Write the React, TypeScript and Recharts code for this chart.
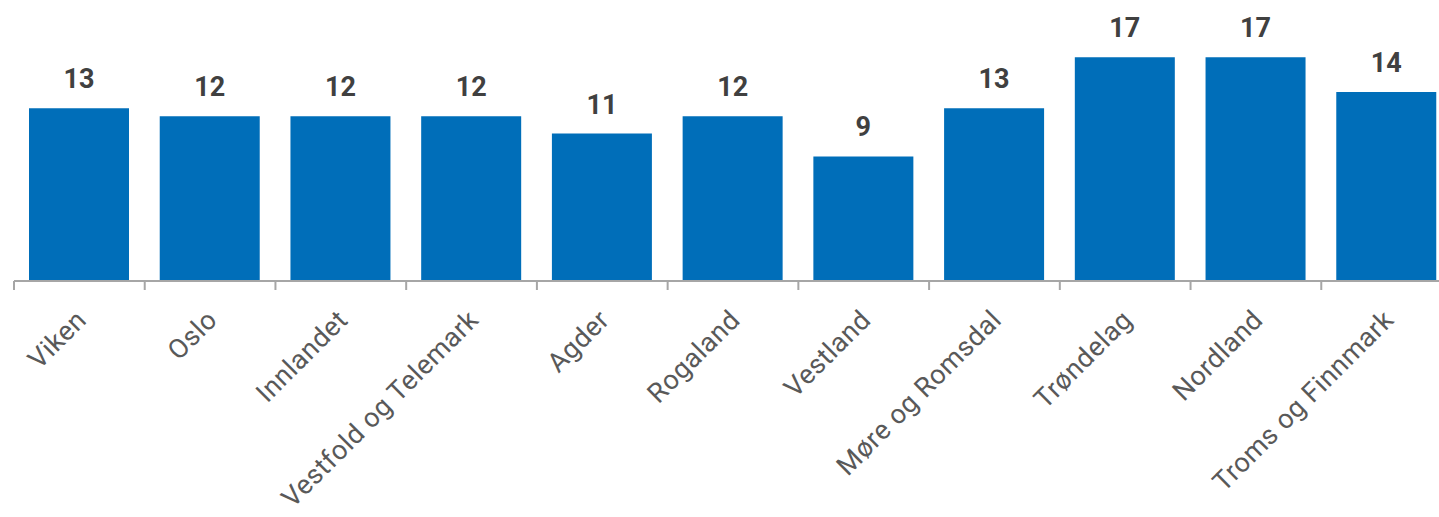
import { BarChart, Bar, XAxis, YAxis, LabelList } from 'recharts';

// Share per region (labels show rounded values)
const regions = [
  'Viken',
  'Oslo',
  'Innlandet',
  'Vestfold og Telemark',
  'Agder',
  'Rogaland',
  'Vestland',
  'Møre og Romsdal',
  'Trøndelag',
  'Nordland',
  'Troms og Finnmark',
];
const shares = [12.9, 12.3, 12.3, 12.3, 11.0, 12.3, 9.3, 12.9, 16.7, 16.7, 14.1];

const data = regions.map((name, i) => ({ name, value: shares[i] }));

const CHART_W = 1452;
const CHART_H = 517;
const LEFT = 14;
const BAND = (CHART_W - LEFT) / regions.length;

function RegionTick({ x, y, payload }: any) {
  const tx = x - 5;
  const ty = y + 27;
  return (
    <g>
      <line x1={x - BAND / 2} x2={x - BAND / 2} y1={y} y2={y + 9} stroke="#a6a6a6" strokeWidth={2} />
      <text
        x={tx}
        y={ty}
        transform={`rotate(-45, ${tx}, ${ty})`}
        textAnchor="end"
        dy="0.71em"
        fill="#595959"
        fontSize={27}
        letterSpacing={0.5}
      >
        {payload.value}
      </text>
    </g>
  );
}

export default function App() {
  return (
    <div style={{ position: 'absolute', left: 0, top: 0, width: 1439, height: CHART_H, overflow: 'hidden', background: '#fff' }}>
      <BarChart
        width={CHART_W}
        height={CHART_H}
        data={data}
        margin={{ top: 13, right: 0, bottom: 0, left: LEFT }}
        style={{ fontFamily: 'Roboto' }}
      >
        <YAxis hide domain={[0, 20]} />
        <XAxis
          dataKey="name"
          interval={0}
          height={236}
          tickSize={0}
          tickMargin={0}
          tickLine={false}
          axisLine={{ stroke: '#a6a6a6', strokeWidth: 2 }}
          tick={<RegionTick />}
        />
        <Bar dataKey="value" fill="#006eb9" barSize={100} isAnimationActive={false}>
          <LabelList
            dataKey="value"
            position="top"
            offset={20}
            formatter={(v: any) => Math.round(Number(v))}
            fill="#404040"
            fontSize={27}
            fontWeight={700}
          />
        </Bar>
      </BarChart>
    </div>
  );
}
